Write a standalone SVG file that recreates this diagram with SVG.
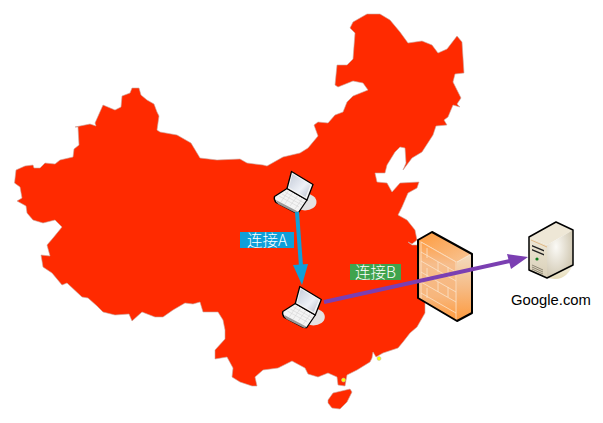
<svg xmlns="http://www.w3.org/2000/svg" xmlns:xlink="http://www.w3.org/1999/xlink" width="603" height="423" viewBox="0 0 603 423">
<style>
.land{fill:#ff2a00;stroke:#c9a8a0;stroke-width:.6;stroke-linejoin:round}
.lbl{font-family:"Noto Sans CJK SC","Liberation Sans",sans-serif;font-size:15.500px;font-weight:300;fill:#fff;text-anchor:middle}
.ln{fill:none;stroke-linecap:butt}
.edge{stroke:#000;stroke-width:2;stroke-linejoin:round}
.edge-thin{stroke:#000;stroke-width:1.500;stroke-linejoin:round}
.brick{fill:none;stroke:#fbe6cf;stroke-width:.9;stroke-opacity:.85}
.key{fill:none;stroke:#d4d4d4;stroke-width:.6}
.vent{fill:none;stroke:#6b6655;stroke-width:.7}
</style>
<defs>
<linearGradient id="fwFace" x1="0" y1="0" x2="0" y2="1"><stop offset="0" stop-color="#ff9e45"/><stop offset=".3" stop-color="#f6bd8c"/><stop offset=".7" stop-color="#f7b67c"/><stop offset="1" stop-color="#ff9a3c"/></linearGradient>
<linearGradient id="fwRight" x1="0" y1="0" x2="0" y2="1"><stop offset="0" stop-color="#f2dcc0"/><stop offset=".5" stop-color="#f6bb85"/><stop offset="1" stop-color="#fd9a3e"/></linearGradient>
<linearGradient id="fwTop" x1="0" y1="0" x2="1" y2="1"><stop offset="0" stop-color="#ff9a3c"/><stop offset="1" stop-color="#f7c596"/></linearGradient>
<linearGradient id="srvFront" x1="0" y1="0" x2="0" y2="1"><stop offset="0" stop-color="#efe8d6"/><stop offset="1" stop-color="#d8cfb8"/></linearGradient>
<radialGradient id="srvRight" cx=".35" cy=".35" r=".8"><stop offset="0" stop-color="#fbfaf6"/><stop offset="1" stop-color="#c9bfa6"/></radialGradient>
<linearGradient id="scr" x1="0" y1="0" x2="1" y2="1"><stop offset="0" stop-color="#c4cbd8"/><stop offset=".6" stop-color="#eef1f7"/><stop offset="1" stop-color="#b9bfcc"/></linearGradient>
<linearGradient id="srvShade" x1="0" y1="0" x2="0" y2="1"><stop offset="0" stop-color="#e6dcb8" stop-opacity=".3"/><stop offset="1" stop-color="#e6dcb8"/></linearGradient>
<g id="laptop">
<ellipse cx="305" cy="202" rx="11.500" ry="8.500" fill="#e4e2e2"/>
<path d="M274.500 196.500L287 188.500L307 200L298.500 212.500Q296 213 294 212L276 202.500Q273.500 199.500 274.500 196.500Z" fill="#f4f4f4" stroke="#000" stroke-width="1.300" stroke-linejoin="round"/>
<path d="M276 200L296 210.500L298.500 212L296 213L278 204Z" fill="#9a9a9a"/>
<path class="key" d="M279 196L299 207M282 194L302 205M285 192L304 203M281 202L289 190M285 204L293 192M290 206L298 195M295 209L302 199"/>
<path d="M291.500 171.500L313 184.500L307 200L287 188.500Z" fill="#f5f5f5" stroke="#000" stroke-width="1.300" stroke-linejoin="round"/>
<path d="M292.500 174L310.500 185L305.500 197L289 187.500Z" fill="url(#scr)"/>
</g>
</defs>
<g id="map">
<path class="land" d="M14.500 183L16 170L25 166L33 165L34 168L40 168L45 163L55 164L60 160L73 157L74 149L79 145L78 127L75 127L90 124L96 126L95 123L103 105L115 110L121 107L122 96L130 93L132 88L139 88L141 95L147 100L154 104L157 112L159 116L157 130L160 132L177 135L191 143L200 158L217 160L240 159L247 163L263 165L267 166L283 157L300 153L308 148L318 136L314 125L318 122L328 123L335 115L343 112L347 102L353 96L368 90L363 83L353 81L338 87L335 85L337 65L347 65L353 59L355 33L350 28L353 22L367 14L380 14L390 20L400 32L408 43L422 41L432 45L438 53L447 49L457 36L462 42L464 73L455 74L453 82L461 98L457 104L460 107L453 105L448 117L444 120L447 125L436 126L433 135L422 152L412 158L403 170L406 163L405 148L400 147L395 152L387 165L385 173L375 173L377 182L387 183L392 192L400 183L419 182L417 188L408 193L402 207L398 215L407 220L415 230L417 240L412 244L408 242L412 245L417 245L440 290L425 303L425 313L417 327L410 333L403 342L398 348L383 353L376 357L373 352L372 358L370 362L357 370L347 375L345 386L338 385L337 377L328 373L318 377L308 374L305 368L292 361L278 368L263 370L255 377L257 386L252 386L240 382L232 377L233 368L227 357L215 359L215 350L225 339L225 330L223 320L218 312L203 312L200 302L193 304L185 303L173 310L163 317L155 317L142 312L132 321L129 314L115 315L103 312L97 306L88 298L82 297L67 283L62 285L52 273L43 267L41 255L50 256L47 245L53 238L62 227L55 220L43 223L33 220L27 213L26 206L17 201L22 198L20 187Z"/>
<path class="land" d="M328 400L333 393L350 389L352 392L347 402L340 409L332 408L328 403Z"/>
<circle cx="343.500" cy="380" r="2" fill="#ffff00" stroke="#bbb" stroke-width=".5"/>
<circle cx="379" cy="358.500" r="2" fill="#ffff00" stroke="#bbb" stroke-width=".5"/>
</g>
<g id="laptop-a"><use xlink:href="#laptop" href="#laptop"/></g>
<g id="laptop-b"><use xlink:href="#laptop" href="#laptop" transform="translate(8.300 115)"/></g>
<g id="firewall">
<path d="M432 232L472 254L457 262L418 240Z" fill="url(#fwTop)"/>
<path d="M418 240L457 262V321L418 298Z" fill="url(#fwFace)"/>
<path d="M457 262L472 254V313L457 321Z" fill="url(#fwRight)"/>
<path class="brick" d="M421 242L456 262M421 252L456 272M421 261L456 281M421 272L456 292M421 282L456 302M421 293L456 313M421 242V300M456 262V320M427 248V258M438 262V272M448 267V277M427 268V278M438 282V292M448 287V297M427 288V298"/>
<path class="brick" d="M457 262L471 254"/>
<path class="edge" fill="none" d="M432 232L472 254V313L457 321L418 298V240Z"/>
</g>
<g id="server">
<path d="M555 279Q568 279 574 262L573 262L547 278Z" fill="url(#srvShade)"/>
<path d="M556 222L573 230L547 245L529 237Z" fill="#eee7d6"/>
<path d="M529 237L547 245V278L529 270Z" fill="url(#srvFront)"/>
<path d="M547 245L573 230V265L547 278Z" fill="url(#srvRight)"/>
<path d="M531 240L547 247" fill="none" stroke="#dca566" stroke-width=".7"/>
<path d="M532 245L544 250V251.500L532 246.500ZM532 249L544 254V255.500L532 250.500Z" fill="#222"/>
<circle cx="537" cy="259" r="1.600" fill="#0d7d1c"/>
<path class="vent" d="M532 265L543 270M532 267L543 272M532 269L543 274M532 271L543 276"/>
<path class="edge-thin" fill="none" d="M556 222L573 230V265L547 278L529 270V237Z"/>
</g>
<g id="connectors">
<path class="ln" d="M297 212L301 266" stroke="#0f9fd8" stroke-width="4"/>
<path d="M293 265L308 264L302 285Z" fill="#0f9fd8"/>
<path class="ln" d="M324 302L510 261" stroke="#7b3fb2" stroke-width="4"/>
<path d="M507 254L528 257L511 269Z" fill="#7b3fb2"/>
</g>
<g id="label-a"><rect x="240" y="232" width="54" height="16" fill="#0f9fd8"/><text class="lbl" x="267" y="245.500">连接A</text></g>
<g id="label-b"><rect x="350" y="264" width="51" height="16" fill="#3fa34d"/><text class="lbl" x="375.500" y="277.500">连接B</text></g>
<g id="google-label"><text x="551" y="305" font-family="Liberation Sans, Arial, sans-serif" font-size="14.800" fill="#000" text-anchor="middle">Google.com</text></g>
</svg>
